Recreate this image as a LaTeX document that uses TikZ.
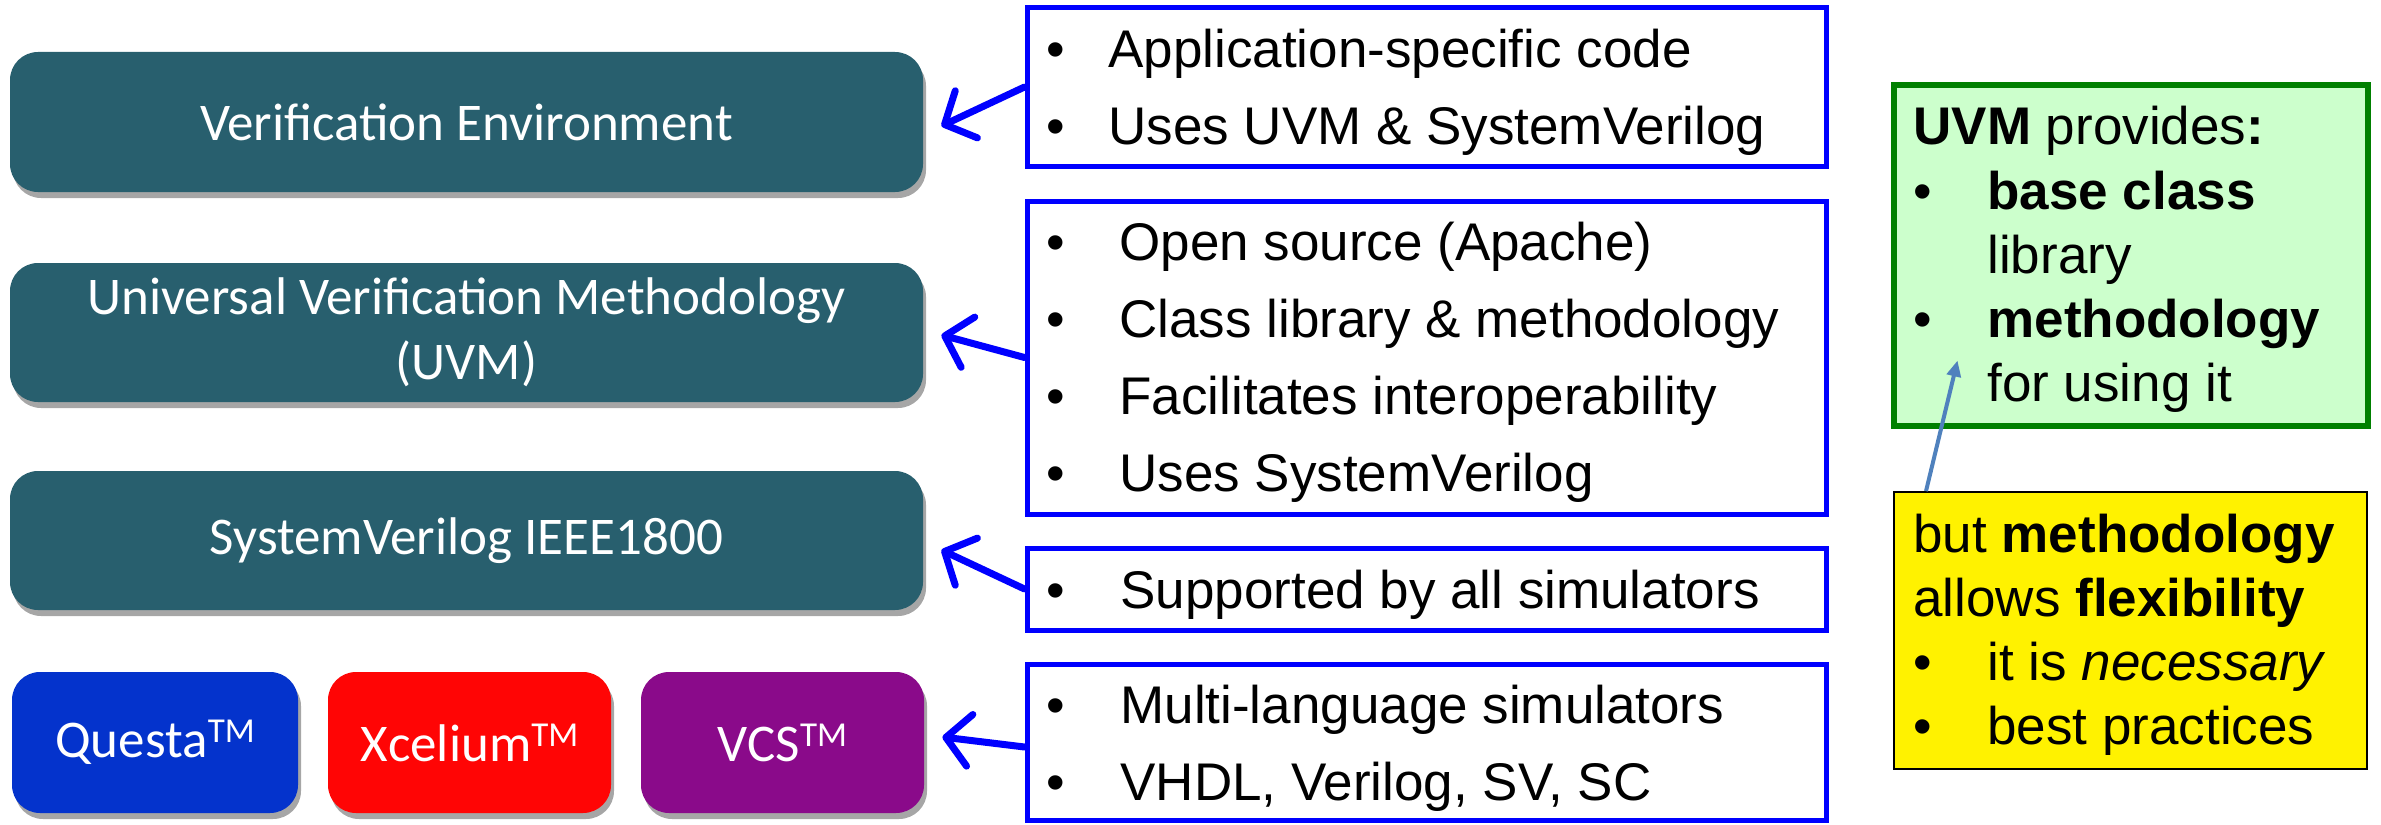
\documentclass[tikz,border=0pt]{standalone}
\usepackage{fontspec}
\setmainfont{Liberation Sans}
\newfontfamily\calfont{Carlito}
\usetikzlibrary{arrows.meta,shadows}
\definecolor{tealc}{HTML}{285F6E}
\definecolor{questac}{HTML}{0433CC}
\definecolor{xcelc}{HTML}{FF0505}
\definecolor{vcsc}{HTML}{8A0A8A}
\definecolor{pureblue}{HTML}{0000FF}
\definecolor{greenfill}{HTML}{CCFFCC}
\definecolor{greenline}{HTML}{008000}
\definecolor{steelc}{HTML}{4F81BD}
\newcommand\tmark{\raisebox{7.5pt}{\fontsize{17.5}{17.5}\selectfont TM}}
\begin{document}
\begin{tikzpicture}[x=0.5pt,y=-0.5pt,
  tbox/.style={rounded corners=14pt, inner sep=0pt, text=white,
    font=\calfont\fontsize{26.5}{32.5}\selectfont, align=center,
    drop shadow={shadow xshift=1.5pt, shadow yshift=-3pt, opacity=0.35, fill=black}},
  bbox/.style={draw=pureblue, line width=2.5pt, inner sep=0pt, minimum width=399.5pt},
  ln/.style={inner sep=0pt, anchor=base west, font=\fontsize{26.5}{30}\selectfont},
  barrow/.style={draw=pureblue, line width=3.5pt, line cap=round,
    -{Straight Barb[length=12pt,width=26pt,round]}},
  sarrow/.style={draw=steelc, line width=2pt, -{Triangle[length=8pt,width=7pt]}}]
\useasboundingbox (0,0) rectangle (2381,824);

% left stack
\node[tbox, fill=tealc, minimum width=456.5pt, minimum height=70pt] (ve) at (466.5,122) {Verification Environment};
\node[tbox, fill=tealc, minimum width=456.5pt, minimum height=69.5pt] (uvm) at (466.5,332.5) {Universal Verification Methodology\\(UVM)};
\node[tbox, fill=tealc, minimum width=456.5pt, minimum height=69.5pt] (sv) at (466.5,540.5) {SystemVerilog IEEE1800};
\node[tbox, fill=questac, minimum width=143pt, minimum height=70.5pt] (questa) at (155,742.5) {Questa\tmark};
\node[tbox, fill=xcelc, minimum width=141.5pt, minimum height=70.5pt] (xcel) at (469.5,742.5) {Xcelium\tmark};
\node[tbox, fill=vcsc, minimum width=141.5pt, minimum height=70.5pt] (vcs) at (782.5,742.5) {VCS\tmark};

% blue boxes
\node[bbox, minimum height=79pt] (boxA) at (1426.5,87) {};
\node[bbox, minimum height=156.5pt] (boxB) at (1426.5,357.5) {};
\node[bbox, minimum height=41pt] (boxC) at (1426.5,589) {};
\node[bbox, minimum height=78pt] (boxD) at (1426.5,742) {};

\node[ln] (a1) at (1046,68) {\makebox[31pt][l]{•}Application-specific code};
\node[ln] (a2) at (1046,145) {\makebox[31pt][l]{•}Uses UVM \& SystemVerilog};

\node[ln] (b1) at (1046,260) {\makebox[36.5pt][l]{•}Open source (Apache)};
\node[ln] (b2) at (1046,337) {\makebox[36.5pt][l]{•}Class library \& methodology};
\node[ln] (b3) at (1046,414) {\makebox[36.5pt][l]{•}Facilitates interoperability};
\node[ln] (b4) at (1046,491) {\makebox[36.5pt][l]{•}Uses SystemVerilog};

\node[ln] (c1) at (1046,608) {\makebox[37pt][l]{•}Supported by all simulators};

\node[ln] (d1) at (1046,723) {\makebox[37pt][l]{•}Multi-language simulators};
\node[ln] (d2) at (1046,800) {\makebox[37pt][l]{•}VHDL, Verilog, SV, SC};

% arrows
\draw[barrow] (boxA.west) -- ([xshift=9pt,yshift=-2pt]ve.east);
\draw[barrow] (boxB.west) -- ([xshift=9pt,yshift=-1.25pt]uvm.east);
\draw[barrow] (boxC.west) -- ([xshift=9pt,yshift=-4.75pt]sv.east);
\draw[barrow] ([yshift=-2.5pt]boxD.west) -- ([xshift=9pt,yshift=2.75pt]vcs.east);

% right side
\node[draw=greenline, fill=greenfill, line width=3pt, inner sep=0pt,
  minimum width=237pt, minimum height=170.5pt] (grn) at (2131,255.5) {};
\node[draw=black, fill=yellow, line width=0.9pt, inner sep=0pt,
  minimum width=236.5pt, minimum height=138.5pt] (yel) at (2130.5,630.5) {};

\node[ln] (g1) at (1913,145) {\textbf{UVM} provides\textbf{:}};
\node[ln] (g2) at (1913,209) {\makebox[37pt][l]{•}\textbf{base class}};
\node[ln] (g3) at (1987,273) {library};
\node[ln] (g4) at (1913,337) {\makebox[37pt][l]{•}\textbf{methodology}};
\node[ln] (g5) at (1987,401) {for using it};

\node[ln] (y1) at (1913,552) {but \textbf{methodology}};
\node[ln] (y2) at (1913,616) {allows \textbf{flexibility}};
\node[ln] (y3) at (1913,680) {\makebox[37pt][l]{•}it is \textit{necessary}};
\node[ln] (y4) at (1913,744) {\makebox[37pt][l]{•}best practices};

\draw[sarrow] ([xshift=-102.25pt]yel.north) -- ([xshift=-86.75pt,yshift=34.25pt]grn.south);
\end{tikzpicture}
\end{document}
